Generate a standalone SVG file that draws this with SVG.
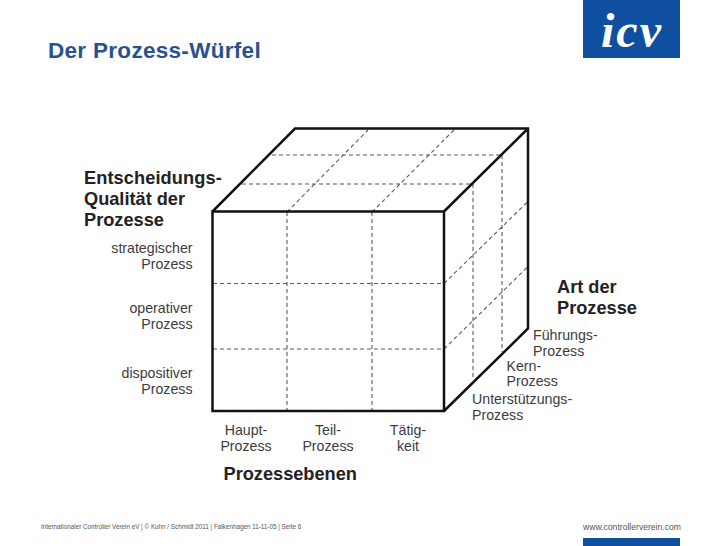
<svg xmlns="http://www.w3.org/2000/svg" width="728" height="546" viewBox="0 0 728 546">
<style>
text{font-family:"Liberation Sans",Arial,sans-serif}
.h{font-size:18.200px;font-weight:bold;fill:#222}
.l{font-size:14.200px;fill:#3c3c3c}
.e{fill:none;stroke:#111;stroke-width:2.500;stroke-linejoin:miter}
.d{fill:none;stroke:#5a5a5a;stroke-width:1.100;stroke-dasharray:4 3}
.m{text-anchor:middle}
.r{text-anchor:end}
</style>
<rect width="728" height="546" fill="#fff"/>
<g id="logo">
<rect x="583" y="0" width="97" height="58" fill="#0f4f9f"/>
<text x="632" y="47" font-size="48" font-style="italic" font-weight="bold" fill="#fff" text-anchor="middle" letter-spacing="2" style="font-family:'Liberation Serif',serif">icv</text>
</g>
<text x="48" y="57.500" font-size="22.500" font-weight="bold" fill="#28528f" letter-spacing=".3" id="title">Der Prozess-Würfel</text>
<g id="connectors">
<path class="d" d="M287 212L368 130M372 212L454 130M272 155H502M242 184H473M287 212V411M372 212V411M213 283.500H444M213 349H444M473 184V380M502 155V352M444 283.500L528 201.500M444 349L528 266.500"/>
<path class="e" d="M212.500 211.500H444V411H212.500ZM212.500 211.500L295 128.500H528V328.500L444 411M444 211.500L528 128.500"/>
</g>
<g id="axis-quality">
<text class="h" x="84" y="184" letter-spacing=".1">Entscheidungs-</text>
<text class="h" x="84" y="205">Qualität der</text>
<text class="h" x="84" y="226">Prozesse</text>
</g>
<g id="q-strategisch"><text class="l r" x="192.500" y="253">strategischer</text><text class="l r" x="192.500" y="269">Prozess</text></g>
<g id="q-operativ"><text class="l r" x="192.500" y="313">operativer</text><text class="l r" x="192.500" y="329">Prozess</text></g>
<g id="q-dispositiv"><text class="l r" x="192.500" y="378">dispositiver</text><text class="l r" x="192.500" y="394">Prozess</text></g>
<g id="level-haupt"><text class="l m" x="246" y="435">Haupt-</text><text class="l m" x="246" y="451">Prozess</text></g>
<g id="level-teil"><text class="l m" x="328" y="435">Teil-</text><text class="l m" x="328" y="451">Prozess</text></g>
<g id="level-taetig"><text class="l m" x="408" y="435">Tätig-</text><text class="l m" x="408" y="451">keit</text></g>
<text class="h" x="223.500" y="480" id="axis-levels">Prozessebenen</text>
<g id="axis-art"><text class="h" x="557" y="293">Art der</text><text class="h" x="557" y="314">Prozesse</text></g>
<g id="art-fuehrung"><text class="l" x="533" y="340">Führungs-</text><text class="l" x="533" y="356">Prozess</text></g>
<g id="art-kern"><text class="l" x="506.500" y="371">Kern-</text><text class="l" x="506.500" y="386">Prozess</text></g>
<g id="art-unterstuetzung"><text class="l" x="472" y="404">Unterstützungs-</text><text class="l" x="472" y="420">Prozess</text></g>
<g id="footer">
<text x="41" y="528.500" font-size="6.300" fill="#555">Internationaler Controller Verein eV  |  © Kuhn / Schmidt 2011  |  Falkenhagen 11-11-05  |  Seite 6</text>
<text x="583" y="530" font-size="8.600" fill="#555">www.controllerverein.com</text>
<rect x="583" y="538" width="97" height="8" fill="#0f4f9f"/>
</g>
</svg>
